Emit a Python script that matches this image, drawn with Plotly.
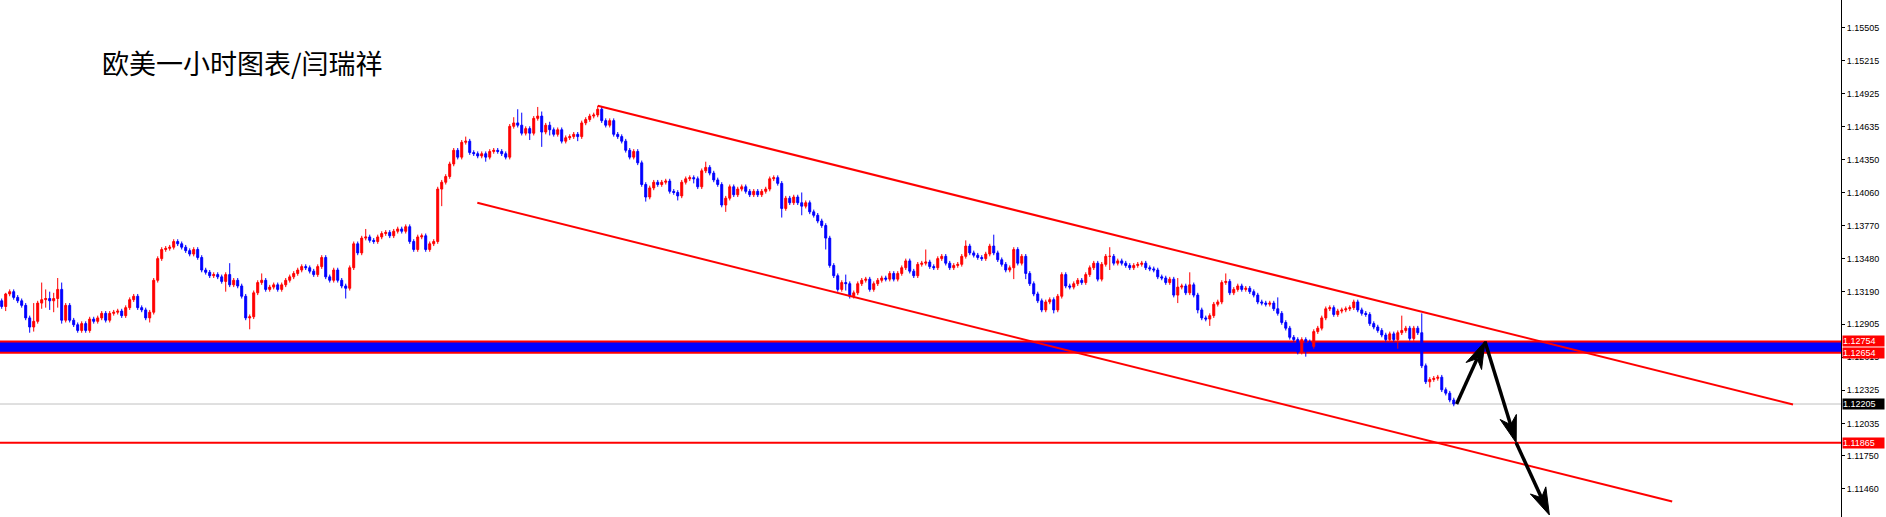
import plotly.graph_objects as go

# ---------------- data (EURUSD H1) ----------------
first_open = 1.1311
closes = [
    1.1306, 1.1317, 1.1319, 1.1314, 1.1311, 1.1307, 1.1296, 1.1288, 1.1293, 1.1309,
    1.1312, 1.1313, 1.1311, 1.1313, 1.1321, 1.1294, 1.1307, 1.1294, 1.1290, 1.1285,
    1.1291, 1.1285, 1.1295, 1.1293, 1.1296, 1.1300, 1.1294, 1.1300, 1.1301, 1.1302,
    1.1298, 1.1305, 1.1312, 1.1315, 1.1305, 1.1303, 1.1296, 1.1301, 1.1329, 1.1348,
    1.1356, 1.1357, 1.1358, 1.1363, 1.1361, 1.1358, 1.1355, 1.1352, 1.1356, 1.1349,
    1.1338, 1.1336, 1.1333, 1.1334, 1.1332, 1.1328, 1.1334, 1.1325, 1.1329, 1.1324,
    1.1315, 1.1296, 1.1297, 1.1318, 1.1327, 1.1329, 1.1321, 1.1323, 1.1325, 1.1321,
    1.1325, 1.1329, 1.1332, 1.1335, 1.1338, 1.1341, 1.1340, 1.1337, 1.1334, 1.1341,
    1.1349, 1.1332, 1.1329, 1.1338, 1.1329, 1.1324, 1.1322, 1.1340, 1.1361, 1.1353,
    1.1366, 1.1367, 1.1364, 1.1363, 1.1367, 1.1370, 1.1371, 1.1368, 1.1372, 1.1374,
    1.1372, 1.1376, 1.1363, 1.1356, 1.1367, 1.1368, 1.1356, 1.1361, 1.1363, 1.1409,
    1.1415, 1.1420, 1.1431, 1.1443, 1.1437, 1.1450, 1.1451, 1.1441, 1.1440, 1.1438,
    1.1440, 1.1437, 1.1442, 1.1443, 1.1442, 1.1440, 1.1437, 1.1464, 1.1467, 1.1465,
    1.1458, 1.1462, 1.1458, 1.1471, 1.1473, 1.1459, 1.1465, 1.1461, 1.1457, 1.1461,
    1.1451, 1.1454, 1.1455, 1.1457, 1.1455, 1.1467, 1.1470, 1.1473, 1.1474, 1.1479,
    1.1469, 1.1465, 1.1469, 1.1457, 1.1455, 1.1451, 1.1443, 1.1437, 1.1442, 1.1432,
    1.1413, 1.1402, 1.1410, 1.1415, 1.1413, 1.1415, 1.1416, 1.1407, 1.1406, 1.1403,
    1.1415, 1.1418, 1.1419, 1.1418, 1.1411, 1.1425, 1.1428, 1.1423, 1.1417, 1.1413,
    1.1395, 1.1401, 1.1411, 1.1404, 1.1409, 1.1411, 1.1407, 1.1404, 1.1407, 1.1404,
    1.1407, 1.1409, 1.1418, 1.1419, 1.1414, 1.1392, 1.1401, 1.1397, 1.1402, 1.1397,
    1.1394, 1.1397, 1.1389, 1.1386, 1.1381, 1.1377, 1.1366, 1.1342, 1.1333, 1.1321,
    1.1327, 1.1326, 1.1315, 1.1318, 1.1326, 1.1329, 1.1330, 1.1321, 1.1326, 1.1329,
    1.1331, 1.1330, 1.1335, 1.1330, 1.1335, 1.1340, 1.1346, 1.1337, 1.1333, 1.1343,
    1.1344, 1.1345, 1.1341, 1.1340, 1.1348, 1.1350, 1.1344, 1.1340, 1.1342, 1.1343,
    1.1350, 1.1359, 1.1353, 1.1351, 1.1349, 1.1348, 1.1352, 1.1359, 1.1353, 1.1347,
    1.1343, 1.1338, 1.1340, 1.1356, 1.1344, 1.1350, 1.1335, 1.1326, 1.1317, 1.1311,
    1.1303, 1.1310, 1.1312, 1.1303, 1.1315, 1.1334, 1.1324, 1.1323, 1.1326, 1.1329,
    1.1327, 1.1334, 1.1340, 1.1344, 1.1330, 1.1343, 1.1350, 1.1350, 1.1344, 1.1346,
    1.1344, 1.1342, 1.1340, 1.1342, 1.1343, 1.1344, 1.1340, 1.1339, 1.1338, 1.1332,
    1.1331, 1.1327, 1.1330, 1.1316, 1.1323, 1.1324, 1.1318, 1.1325, 1.1316, 1.1303,
    1.1296, 1.1295, 1.1298, 1.1308, 1.1310, 1.1327, 1.1328, 1.1318, 1.1321, 1.1324,
    1.1321, 1.1322, 1.1319, 1.1316, 1.1310, 1.1309, 1.1308, 1.1309, 1.1304, 1.1300,
    1.1292, 1.1287, 1.1279, 1.1277, 1.1266, 1.1277, 1.1275, 1.1271, 1.1284, 1.1287,
    1.1296, 1.1304, 1.1305, 1.1299, 1.1302, 1.1303, 1.1304, 1.1305, 1.1310, 1.1303,
    1.1300, 1.1299, 1.1291, 1.1288, 1.1285, 1.1281, 1.1277, 1.1282, 1.1277, 1.1283,
    1.1285, 1.1287, 1.1278, 1.1287, 1.1283, 1.1254, 1.1240, 1.1242, 1.1243, 1.1244,
    1.1233, 1.1230, 1.1224, 1.12205,
]
# wick lengths beyond the candle body, in pips
upper_wick_pips = [
    2, 1, 2, 2, 2, 2, 2, 2, 16, 2, 15, 8, 6, 5, 10, 6, 2, 2, 2, 2,
    2, 2, 2, 2, 2, 2, 2, 2, 2, 2, 2, 2, 2, 2, 2, 2, 2, 2, 2, 2,
    2, 2, 2, 2, 2, 2, 2, 2, 2, 2, 2, 2, 2, 2, 2, 2, 2, 10, 2, 2,
    2, 2, 2, 2, 2, 6, 2, 2, 2, 2, 2, 2, 2, 2, 2, 2, 2, 2, 2, 2,
    2, 2, 2, 2, 2, 2, 2, 2, 2, 2, 2, 7, 2, 2, 2, 2, 2, 2, 2, 2,
    2, 2, 2, 2, 2, 2, 2, 2, 2, 2, 2, 2, 2, 2, 2, 2, 4, 2, 2, 2,
    2, 2, 2, 2, 2, 2, 2, 2, 5, 12, 11, 2, 2, 2, 8, 4, 2, 3, 2, 2,
    2, 2, 2, 2, 2, 2, 2, 2, 2, 3, 2, 2, 2, 2, 2, 2, 2, 2, 2, 2,
    2, 2, 2, 2, 2, 2, 2, 2, 2, 2, 2, 2, 2, 2, 2, 2, 5, 2, 2, 2,
    2, 2, 2, 2, 2, 2, 2, 2, 2, 2, 2, 2, 2, 2, 2, 2, 2, 2, 2, 2,
    9, 2, 2, 2, 2, 2, 2, 2, 2, 2, 2, 7, 2, 2, 2, 2, 2, 2, 2, 2,
    2, 2, 2, 2, 2, 2, 2, 2, 2, 2, 2, 11, 2, 2, 2, 2, 2, 2, 2, 2,
    2, 5, 2, 2, 2, 2, 2, 2, 10, 2, 2, 2, 2, 2, 2, 2, 2, 2, 2, 2,
    2, 2, 2, 2, 2, 2, 2, 2, 2, 2, 2, 2, 2, 2, 2, 2, 2, 8, 2, 2,
    2, 2, 2, 2, 2, 2, 2, 2, 2, 2, 2, 2, 2, 2, 8, 2, 2, 11, 2, 2,
    2, 2, 2, 2, 2, 2, 7, 2, 2, 2, 2, 2, 2, 2, 2, 2, 2, 2, 2, 10,
    2, 2, 2, 2, 2, 2, 2, 2, 2, 2, 2, 2, 2, 2, 2, 2, 2, 2, 2, 2,
    2, 2, 2, 2, 2, 2, 2, 2, 2, 2, 13, 2, 2, 2, 2, 17, 2, 2, 2, 2,
    2, 2, 2, 2,
]
lower_wick_pips = [
    2, 4, 2, 2, 2, 2, 2, 5, 4, 2, 5, 7, 8, 10, 8, 3, 2, 2, 2, 2,
    2, 2, 2, 2, 2, 2, 2, 2, 2, 2, 2, 2, 2, 2, 2, 2, 2, 4, 2, 2,
    2, 2, 2, 2, 2, 2, 2, 2, 2, 2, 2, 2, 2, 2, 2, 2, 9, 2, 2, 2,
    2, 2, 10, 2, 2, 2, 2, 2, 2, 2, 2, 2, 2, 2, 2, 2, 2, 2, 2, 2,
    2, 2, 2, 2, 2, 2, 9, 2, 2, 2, 2, 2, 2, 2, 2, 2, 2, 2, 2, 2,
    2, 2, 2, 2, 2, 2, 2, 2, 2, 2, 15, 2, 2, 2, 2, 2, 2, 2, 2, 2,
    2, 4, 2, 2, 2, 2, 2, 2, 2, 2, 2, 2, 6, 2, 2, 13, 2, 5, 2, 2,
    2, 2, 2, 2, 4, 2, 2, 2, 2, 2, 2, 2, 2, 2, 2, 2, 2, 2, 2, 2,
    2, 4, 2, 2, 2, 2, 2, 2, 2, 4, 2, 2, 2, 4, 2, 2, 2, 2, 2, 2,
    2, 6, 2, 2, 2, 2, 2, 2, 2, 2, 2, 2, 2, 2, 2, 8, 2, 2, 2, 2,
    8, 2, 2, 2, 2, 2, 10, 2, 2, 2, 2, 6, 2, 2, 2, 2, 2, 2, 2, 2,
    2, 2, 2, 2, 2, 2, 2, 2, 2, 2, 2, 2, 2, 2, 2, 2, 2, 2, 2, 2,
    2, 2, 2, 2, 2, 2, 2, 2, 2, 2, 2, 2, 2, 10, 2, 2, 5, 2, 2, 2,
    2, 2, 2, 3, 2, 2, 2, 2, 2, 2, 2, 2, 2, 2, 2, 2, 2, 12, 2, 2,
    2, 2, 2, 2, 2, 2, 2, 2, 2, 2, 2, 2, 2, 2, 7, 2, 2, 2, 2, 3,
    2, 2, 6, 2, 2, 2, 2, 2, 2, 2, 2, 2, 2, 2, 2, 2, 2, 2, 2, 2,
    2, 2, 2, 2, 2, 2, 13, 2, 2, 2, 2, 2, 2, 2, 2, 2, 2, 2, 2, 2,
    2, 2, 2, 2, 2, 2, 2, 2, 2, 8, 2, 2, 2, 2, 2, 2, 2, 5, 2, 2,
    2, 2, 2, 2,
]

tick_vals = [1.15505, 1.15215, 1.14925, 1.14635, 1.14350, 1.14060, 1.13770, 1.13480,
             1.13190, 1.12905, 1.12615, 1.12325, 1.12035, 1.11750, 1.11460]

zone_top = 1.12754
zone_bottom = 1.12654
target_level = 1.11865
bid_price = 1.12205

upper_channel_bars = [149.0, 447.8]
upper_channel_prices = [1.1482, 1.1220]
lower_channel_bars = [118.9, 417.6]
lower_channel_prices = [1.1397, 1.1135]

arrow_bars = [363.7, 370.8, 378.6, 386.9]
arrow_prices = [1.12205, 1.12754, 1.11865, 1.11232]

title_text = "欧美一小时图表/闫瑞祥"

X_RANGE = [-0.425, 459.8]
Y_RANGE = [1.11214, 1.15748]

# ---------------- derived ----------------
pip = 0.0001
bars = list(range(len(closes)))
opens = [first_open] + closes[:-1]
highs = [max(o, c) + u * pip for o, c, u in zip(opens, closes, upper_wick_pips)]
lows = [min(o, c) - d * pip for o, c, d in zip(opens, closes, lower_wick_pips)]

W, H = 1886, 517
M_R = 45
PLOT_W = W - M_R
PLOT_H = H
px_per_bar = PLOT_W / (X_RANGE[1] - X_RANGE[0])
px_per_price = PLOT_H / (Y_RANGE[1] - Y_RANGE[0])

RED = "#FF0000"
BLUE = "#0000FF"

fig = go.Figure()

fig.add_trace(go.Candlestick(
    x=bars, open=opens, high=highs, low=lows, close=closes,
    increasing=dict(line=dict(color=RED, width=1), fillcolor=RED),
    decreasing=dict(line=dict(color=BLUE, width=1), fillcolor=BLUE),
    whiskerwidth=0, showlegend=False, hoverinfo="skip",
))

# channel lines
for bx, py in ((upper_channel_bars, upper_channel_prices), (lower_channel_bars, lower_channel_prices)):
    fig.add_trace(go.Scatter(x=bx, y=py, mode="lines", line=dict(color=RED, width=2),
                             showlegend=False, hoverinfo="skip"))

# forecast arrows (shaft + elongated head)
HEAD_L, HEAD_W = 27.0, 8.5
for k in range(len(arrow_bars) - 1):
    xa, ya = arrow_bars[k], arrow_prices[k]
    xb, yb = arrow_bars[k + 1], arrow_prices[k + 1]
    dx = (xb - xa) * px_per_bar
    dy = (yb - ya) * px_per_price
    ln = (dx * dx + dy * dy) ** 0.5
    ux, uy = dx / ln, dy / ln
    nx, ny = -uy, ux

    def to_data(ox, oy):
        return xb + ox / px_per_bar, yb + oy / px_per_price

    bcx, bcy = -ux * HEAD_L, -uy * HEAD_L
    p1 = to_data(bcx + nx * HEAD_W, bcy + ny * HEAD_W)
    p2 = to_data(bcx + ux * HEAD_L * 0.3, bcy + uy * HEAD_L * 0.3)
    p3 = to_data(bcx - nx * HEAD_W, bcy - ny * HEAD_W)
    tip = (xb, yb)
    fig.add_trace(go.Scatter(x=[xa, p2[0]], y=[ya, p2[1]], mode="lines",
                             line=dict(color="black", width=3.5), showlegend=False, hoverinfo="skip"))
    fig.add_trace(go.Scatter(x=[tip[0], p1[0], p2[0], p3[0], tip[0]],
                             y=[tip[1], p1[1], p2[1], p3[1], tip[1]],
                             mode="lines", fill="toself", fillcolor="black",
                             line=dict(color="black", width=1), showlegend=False, hoverinfo="skip"))

shapes = [
    dict(type="rect", xref="paper", x0=0, x1=1, yref="y", y0=zone_bottom, y1=zone_top,
         fillcolor=BLUE, line=dict(width=0), layer="below"),
    dict(type="line", xref="paper", x0=0, x1=1, yref="y", y0=zone_top, y1=zone_top,
         line=dict(color=RED, width=2), layer="below"),
    dict(type="line", xref="paper", x0=0, x1=1, yref="y", y0=zone_bottom, y1=zone_bottom,
         line=dict(color=RED, width=2), layer="below"),
    dict(type="line", xref="paper", x0=0, x1=1, yref="y", y0=target_level, y1=target_level,
         line=dict(color=RED, width=2), layer="below"),
    dict(type="line", xref="paper", x0=0, x1=1, yref="y", y0=bid_price, y1=bid_price,
         line=dict(color="#C0C0C0", width=1), layer="below"),
]

annotations = [
    dict(text=title_text, xref="paper", yref="paper", x=100 / PLOT_W, y=1 - 62 / PLOT_H,
         xanchor="left", yanchor="middle", showarrow=False,
         font=dict(family="Noto Sans CJK SC", size=27, color="black")),
]
for price, bg in ((zone_top, RED), (zone_bottom, RED), (bid_price, "black"), (target_level, RED)):
    annotations.append(dict(
        text=f"{price:.5f}", xref="paper", x=1, xanchor="left", xshift=1,
        yref="y", y=price, yanchor="middle", showarrow=False,
        bgcolor=bg, borderpad=0, width=41, height=10, align="left",
        font=dict(family="Liberation Sans", size=9, color="white")))

fig.update_layout(
    width=W, height=H,
    margin=dict(l=0, r=M_R, t=0, b=0),
    paper_bgcolor="white", plot_bgcolor="white",
    boxgap=0.3,
    shapes=shapes, annotations=annotations,
    xaxis=dict(range=X_RANGE, visible=False, rangeslider=dict(visible=False), fixedrange=True),
    yaxis=dict(range=Y_RANGE, side="right", showgrid=False, zeroline=False,
               showline=True, linecolor="black", linewidth=1,
               ticks="outside", ticklen=3, tickcolor="black",
               tickvals=tick_vals, ticktext=[f"{v:.5f}" for v in tick_vals],
               tickfont=dict(family="Liberation Sans", size=9, color="black")),
)

fig.write_html(
    "out.html",
    config={"displayModeBar": False},
    post_script="document.body.style.margin='0px';document.body.style.overflow='hidden';",
)
